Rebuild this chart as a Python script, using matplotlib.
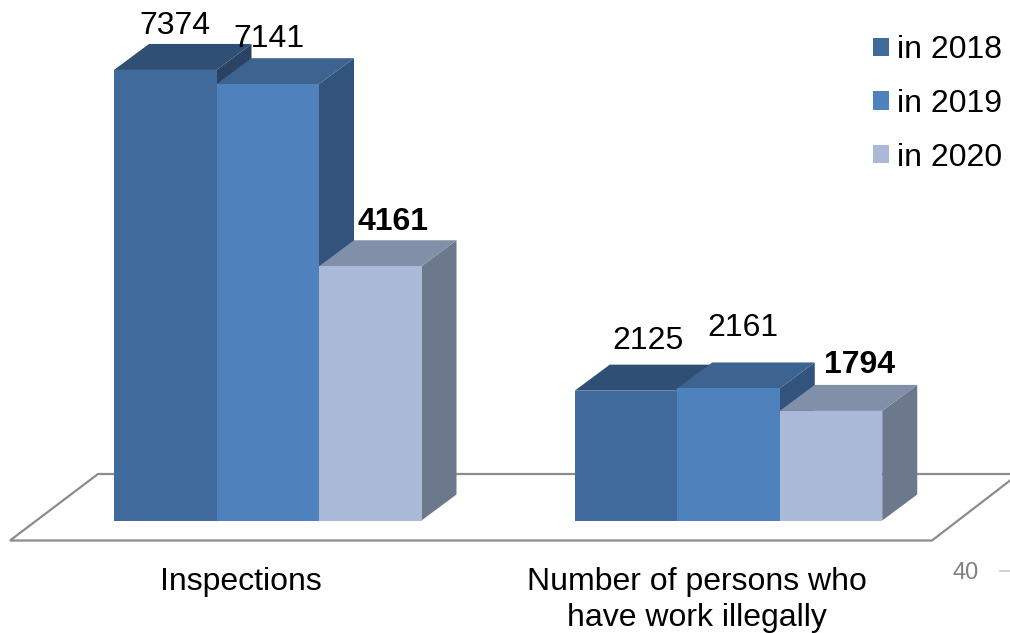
import matplotlib
matplotlib.use('Agg')
import matplotlib.pyplot as plt
import matplotlib.patches as mpatches
from matplotlib.transforms import Affine2D

plt.rcParams['font.family'] = ['Liberation Sans', 'DejaVu Sans']

# data
categories = ['Inspections', 'Number of persons who\nhave work illegally']
series_names = ['in 2018', 'in 2019', 'in 2020']
values_2018 = [7374, 2125]
values_2019 = [7141, 2161]
values_2020 = [4161, 1794]

# colours per series: front, top, side
front_colors = ['#406A9C', '#4F81BD', '#AAB9D7']
top_colors = ['#2F4F75', '#3D6390', '#828FA8']
side_colors = ['#2A4365', '#32537C', '#6C788B']

# layout, in pixels of the 1010x633 picture
W, H = 1010, 633
BASE_Y = 520.5
PX_PER_UNIT = 0.0611
GROUP_X = [267.75, 728.5]
GROUP_STEP = GROUP_X[1] - GROUP_X[0]
BAR_W = 102.5 / GROUP_STEP
DEPTH_X = 35 / GROUP_STEP
DEPTH_Y = 26 / PX_PER_UNIT
LABEL_OFFSETS = [[(10, -44), (1, -45), (23, -44)],
                 [(22, -50), (14, -60), (29, -46)]]
CATEGORY_POS = [(241, 582), (697, 600)]

fig = plt.figure(figsize=(W / 100, H / 100), dpi=100)
ax = fig.add_axes([0, 0, 1, 1])
ax.set_xlim(-GROUP_X[0] / GROUP_STEP, (W - GROUP_X[0]) / GROUP_STEP)
ax.set_ylim(-(H - BASE_Y) / PX_PER_UNIT, BASE_Y / PX_PER_UNIT)
ax.axis('off')

# picture pixels, y going down
px = Affine2D().scale(1 / W, -1 / H).translate(0, 1) + fig.transFigure

# floor of the 3D chart
floor = mpatches.Polygon([(1012, 479), (932, 540.5), (10, 540.5), (98, 474), (1012, 474)],
                         closed=False, fill=False, edgecolor='#8C8C8C', linewidth=1.6,
                         joinstyle='miter', transform=px, zorder=1)
ax.add_patch(floor)


def draw_bar(x, value, i):
    left, right = x, x + BAR_W
    top = [(left, value), (left + DEPTH_X, value + DEPTH_Y),
           (right + DEPTH_X, value + DEPTH_Y), (right, value)]
    side = [(right, 0), (right + DEPTH_X, DEPTH_Y),
            (right + DEPTH_X, value + DEPTH_Y), (right, value)]
    ax.add_patch(mpatches.Polygon(side, facecolor=side_colors[i], edgecolor='none', zorder=2))
    ax.add_patch(mpatches.Polygon(top, facecolor=top_colors[i], edgecolor='none', zorder=2))
    ax.bar(x, value, width=BAR_W, align='edge', color=front_colors[i], zorder=2)


all_values = [values_2018, values_2019, values_2020]
for g in range(len(categories)):
    for i, vals in enumerate(all_values):
        x = g + (i - 1.5) * BAR_W
        draw_bar(x, vals[g], i)
        dx, dy = LABEL_OFFSETS[g][i]
        ax.annotate(str(vals[g]), (x + BAR_W / 2, vals[g]), xytext=(dx * 0.72, -dy * 0.72),
                    textcoords='offset points', ha='center', va='center', fontsize=23,
                    fontweight='bold' if i == 2 else 'normal', color='black', zorder=5)
    ax.text(CATEGORY_POS[g][0], CATEGORY_POS[g][1], categories[g], transform=px,
            ha='center', va='center', fontsize=23, color='black', linespacing=1.27)

# legend
handles = [mpatches.Patch(facecolor=c, edgecolor='none', label=n)
           for c, n in zip(front_colors, series_names)]
ax.legend(handles=handles, loc='upper left', bbox_to_anchor=(873, 35), bbox_transform=px,
          frameon=False, fontsize=23, handlelength=0.5, handleheight=0.5, handletextpad=0.25,
          labelspacing=0.745, borderpad=0, borderaxespad=0)

# slide number left in the picture
ax.text(966, 573, '40', transform=px, ha='center', va='center', fontsize=17, color='#808080')
ax.plot([1000, 1012], [571, 571], transform=px, color='#C8C8C8', linewidth=1.2)

fig.savefig('out.png', dpi=100)
